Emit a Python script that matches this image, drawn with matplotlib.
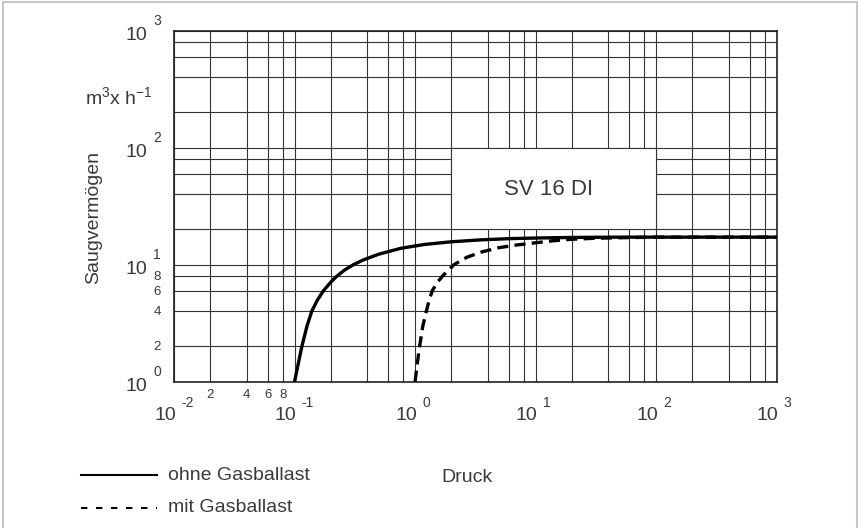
import numpy as np
import matplotlib
matplotlib.use("Agg")
import matplotlib.pyplot as plt
from matplotlib.patches import Rectangle
from matplotlib.lines import Line2D
from matplotlib.ticker import LogLocator, NullFormatter

plt.rcParams['font.family'] = ['Liberation Sans', 'DejaVu Sans']
plt.rcParams['mathtext.fontset'] = 'custom'
plt.rcParams['mathtext.rm'] = 'Liberation Sans'
plt.rcParams['mathtext.it'] = 'Liberation Sans'
plt.rcParams['mathtext.default'] = 'regular'
plt.rcParams['lines.scale_dashes'] = False

# Saugvermoegen ohne Gasballast
p_ohne = [0.1, 0.107, 0.115, 0.127, 0.139, 0.155, 0.174, 0.2, 0.225, 0.26,
          0.308, 0.373, 0.5, 0.76, 1.2, 2.0, 3.5, 6, 10, 20, 50, 100, 300, 1000]
s_ohne = [1.0, 1.4, 2.0, 3.0, 4.0, 5.0, 6.0, 7.1, 8.0, 9.0,
          10.0, 11.0, 12.3, 13.8, 14.9, 15.7, 16.3, 16.7, 16.9, 17.1, 17.2, 17.2, 17.2, 17.2]

# Saugvermoegen mit Gasballast
p_mit = [1.0, 1.04, 1.09, 1.16, 1.24, 1.31, 1.39, 1.52, 1.69, 2.1, 2.7, 3.62,
         5.0, 6.84, 10, 13.8, 20, 30, 50, 100, 300, 1000]
s_mit = [1.0, 1.4, 2.0, 3.0, 4.0, 5.0, 6.0, 7.0, 8.0, 10.0, 11.6, 12.9,
         14.0, 14.7, 15.4, 16.0, 16.5, 16.8, 17.0, 17.2, 17.2, 17.2]

x_exps = [-2, -1, 0, 1, 2, 3]
y_exps = [0, 1, 2, 3]
minor_vals = [2, 4, 6, 8]

W, H = 859, 528
TXT = '#3a3a3a'
GRID = '#333333'


def fx(px):
    return px / W


def fy(py):
    return 1 - py / H


fig = plt.figure(figsize=(W / 100, H / 100), dpi=100)
ax = fig.add_axes([fx(174), fy(381.7), fx(776.7) - fx(174), fy(30.7) - fy(381.7)])
ax.set_xscale('log')
ax.set_yscale('log')
ax.set_xlim(1e-2, 1e3)
ax.set_ylim(1, 1e3)

for axis in (ax.xaxis, ax.yaxis):
    axis.set_major_locator(LogLocator(base=10, numticks=20))
    axis.set_minor_locator(LogLocator(base=10, subs=minor_vals, numticks=20))
    axis.set_minor_formatter(NullFormatter())
ax.tick_params(which='both', length=0, labelleft=False, labelbottom=False)
ax.grid(which='both', color=GRID, lw=0.8)
for sp in ax.spines.values():
    sp.set_linewidth(1.2)
    sp.set_color('#222222')

# white box with title
ax.add_patch(Rectangle((2, 20), 98, 80, facecolor='white', edgecolor=GRID,
                       lw=0.8, zorder=2))
ax.text(12.7, 43.5, 'SV 16 DI', ha='center', va='center', fontsize=16,
        color=TXT, zorder=3)

ax.plot(p_ohne, s_ohne, color='black', lw=2.4, zorder=4, solid_capstyle='butt')
ax.plot(p_mit, s_mit, color='black', lw=2.4, zorder=4, dashes=(8, 4.5))

# tick labels
for e in x_exps:
    ax.annotate('10', (10.0 ** e, 1), xycoords='data', textcoords='offset pixels',
                xytext=(2, -33.5), ha='right', va='center', fontsize=14,
                color=TXT, annotation_clip=False)
    ax.annotate(str(e), (10.0 ** e, 1), xycoords='data', textcoords='offset pixels',
                xytext=(7, -21.5), ha='left', va='center', fontsize=10,
                color=TXT, annotation_clip=False)
for e in y_exps:
    ax.annotate('10', (1e-2, 10.0 ** e), xycoords='data', textcoords='offset pixels',
                xytext=(-27, -4.5), ha='right', va='center', fontsize=14,
                color=TXT, annotation_clip=False)
    ax.annotate(str(e), (1e-2, 10.0 ** e), xycoords='data', textcoords='offset pixels',
                xytext=(-20.5, 9.5), ha='left', va='center', fontsize=10,
                color=TXT, annotation_clip=False)
for v in minor_vals:
    ax.annotate(str(v), (1e-2, v), xycoords='data', textcoords='offset pixels',
                xytext=(-17, -1), ha='center', va='center', fontsize=9.5,
                color=TXT, annotation_clip=False)
    ax.annotate(str(v), (v * 1e-2, 1), xycoords='data', textcoords='offset pixels',
                xytext=(0, -13.5), ha='center', va='center', fontsize=9.5,
                color=TXT, annotation_clip=False)

# axis titles
fig.text(fx(93.5), fy(218), 'Saugvermögen', rotation=90, ha='center', va='center',
         fontsize=14, color=TXT)
fig.text(fx(153), fy(104), r'm$^{3}$x h$^{-1}$', ha='right', va='baseline',
         fontsize=14, color=TXT)
fig.text(fx(467), fy(478), 'Druck', ha='center', va='center', fontsize=14, color=TXT)

# legend
fig.add_artist(Line2D([fx(81), fx(157)], [fy(475), fy(475)], color='black', lw=1.5,
                      transform=fig.transFigure))
fig.add_artist(Line2D([fx(81), fx(157)], [fy(508), fy(508)], color='black', lw=1.5,
                      dashes=(4.6, 6.2), transform=fig.transFigure))
fig.text(fx(168), fy(475), 'ohne Gasballast', ha='left', va='center', fontsize=14, color=TXT)
fig.text(fx(168), fy(508), 'mit Gasballast', ha='left', va='center', fontsize=14, color=TXT)

# light frame around the figure
frame_x = [fx(3), fx(3), fx(856.5), fx(856.5)]
frame_y = [0, fy(1.8), fy(1.8), 0]
fig.add_artist(Line2D(frame_x, frame_y, color='#c8c8c8', lw=1.5, transform=fig.transFigure))

fig.savefig('out.png', dpi=100)
